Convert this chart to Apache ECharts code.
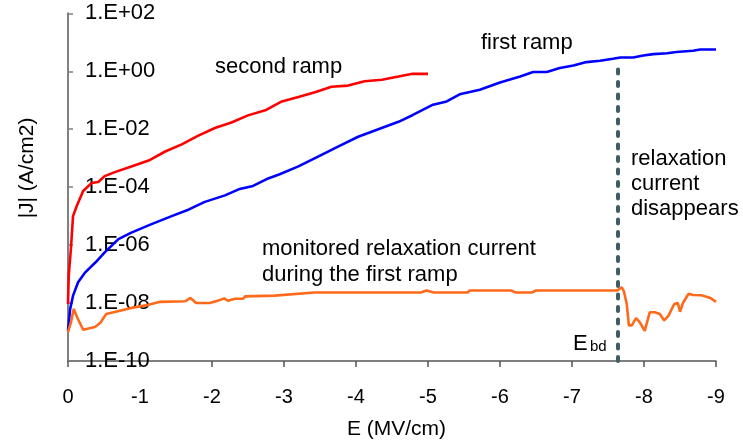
<!DOCTYPE html>
<html>
<head>
<meta charset="utf-8">
<script src="https://cdn.jsdelivr.net/npm/echarts@6/dist/echarts.min.js"></script>
<style>
  html, body { margin: 0; padding: 0; background: #fff; }
  #chart { width: 743px; height: 445px; }
</style>
</head>
<body>
<div id="chart"></div>
<script>
// Field E (MV/cm) and current density |J| (A/cm2) for each trace
const secondRampE = [0, -0.01, -0.04, -0.07, -0.12, -0.21, -0.33, -0.42, -0.51, -0.65, -0.88, -1.12, -1.35, -1.58, -1.81, -2.04, -2.27, -2.50, -2.74, -2.97, -3.20, -3.43, -3.66, -3.89, -4.12, -4.36, -4.59, -4.77, -5.0];
const secondRampJ = [9.3e-9, 8.7e-8, 7.2e-7, 1.0e-5, 2.2e-5, 7.4e-5, 1.4e-4, 1.5e-4, 2.4e-4, 3.3e-4, 5.2e-4, 8.3e-4, 1.7e-3, 3.0e-3, 6.0e-3, 1.1e-2, 1.7e-2, 3.0e-2, 4.5e-2, 9.1e-2, 0.13, 0.19, 0.29, 0.32, 0.45, 0.51, 0.66, 0.81, 0.81];

const firstRampE = [0, -0.03, -0.07, -0.14, -0.24, -0.38, -0.51, -0.70, -0.88, -1.16, -1.44, -1.68, -1.90, -2.18, -2.37, -2.57, -2.78, -2.94, -3.20, -3.48, -3.75, -4.03, -4.31, -4.59, -4.79, -5.07, -5.26, -5.44, -5.72, -6.00, -6.28, -6.46, -6.65, -6.83, -7.02, -7.20, -7.39, -7.57, -7.67, -7.85, -7.99, -8.13, -8.32, -8.45, -8.68, -8.78, -9.0];
const firstRampJ = [1.1e-9, 6.3e-9, 1.8e-8, 5.2e-8, 1.15e-7, 2.5e-7, 5.6e-7, 1.6e-6, 2.7e-6, 5.3e-6, 1.0e-5, 1.7e-5, 3.1e-5, 5.2e-5, 8.4e-5, 1.1e-4, 2.0e-4, 2.8e-4, 5.2e-4, 1.15e-3, 2.5e-3, 5.5e-3, 1.0e-2, 1.8e-2, 3.1e-2, 7.0e-2, 9.1e-2, 0.16, 0.23, 0.41, 0.66, 0.94, 0.94, 1.29, 1.58, 2.07, 2.3, 2.7, 3.0, 3.0, 3.5, 3.9, 4.2, 4.6, 5.1, 5.6, 5.6];

const relaxationE = [0, -0.04, -0.08, -0.125, -0.21, -0.375, -0.45, -0.53, -0.88, -1.08, -1.28, -1.63, -1.70, -1.78, -1.97, -2.08, -2.17, -2.22, -2.32, -2.43, -2.46, -2.87, -3.42, -4.90, -4.98, -5.08, -5.55, -5.58, -6.15, -6.22, -6.44, -6.50, -7.63, -7.69, -7.72, -7.76, -7.79, -7.83, -7.89, -7.94, -8.01, -8.08, -8.15, -8.22, -8.28, -8.34, -8.42, -8.47, -8.50, -8.54, -8.62, -8.68, -8.80, -8.92, -9.0];
const relaxationJ = [1.0e-9, 2.1e-9, 6.3e-9, 3.3e-9, 1.2e-9, 1.5e-9, 2.1e-9, 4.2e-9, 6.8e-9, 8.3e-9, 1.1e-8, 1.15e-8, 1.5e-8, 1.0e-8, 1.0e-8, 1.2e-8, 1.45e-8, 1.2e-8, 1.4e-8, 1.4e-8, 1.7e-8, 1.8e-8, 2.3e-8, 2.3e-8, 2.7e-8, 2.3e-8, 2.3e-8, 2.7e-8, 2.7e-8, 2.3e-8, 2.3e-8, 2.7e-8, 2.7e-8, 3.5e-8, 2.6e-8, 9.3e-9, 1.7e-9, 1.7e-9, 3.0e-9, 2.2e-9, 1.1e-9, 4.8e-9, 4.8e-9, 4.2e-9, 2.5e-9, 3.7e-9, 9.3e-9, 1.0e-8, 5.0e-9, 1.0e-8, 2.1e-8, 1.9e-8, 1.85e-8, 1.5e-8, 1.1e-8];

// Breakdown field marker
const breakdownE = -7.64;
const breakdownTopJ = 1.3;

// Axis ranges and ticks
const fieldMin = -9, fieldMax = 0, fieldStep = 1;
const currentMin = 1e-10, currentMax = 1e2;
const currentTicks = [1e-10, 1e-8, 1e-6, 1e-4, 1e-2, 1e0, 1e2];

const FONT = 'Liberation Sans, Arial, Helvetica, sans-serif';

function pairs(xs, ys) { return xs.map((x, i) => [x, ys[i]]); }

function sciLabel(v) {
  const e = Math.round(Math.log10(v));
  return '1.E' + (e < 0 ? '-' : '+') + String(Math.abs(e)).padStart(2, '0');
}

const chart = echarts.init(document.getElementById('chart'), null, { renderer: 'canvas' });

const textStyle = { fontFamily: FONT, fontSize: 22, fill: '#000' };

chart.setOption({
  animation: false,
  backgroundColor: '#fff',
  grid: { left: 68, right: 27, top: 13.3, bottom: 82.7, containLabel: false },
  xAxis: {
    type: 'value',
    min: fieldMin, max: fieldMax, interval: fieldStep,
    inverse: true,
    name: 'E (MV/cm)',
    nameLocation: 'middle',
    nameGap: 58,
    nameTextStyle: { fontFamily: FONT, fontSize: 21, color: '#000', padding: [0, 0, 0, 9] },
    axisLine: { onZero: false, lineStyle: { color: '#555', width: 1.5 } },
    axisTick: { inside: false, length: 6, lineStyle: { color: '#555', width: 1.5 } },
    axisLabel: { fontFamily: FONT, fontSize: 20, color: '#000', margin: 26, formatter: v => String(v) },
    splitLine: { show: false }
  },
  yAxis: {
    type: 'log',
    logBase: 10,
    min: currentMin, max: currentMax,
    axisLine: { show: true, lineStyle: { color: '#808080', width: 2 } },
    axisTick: { show: true, inside: true, length: 5, customValues: currentTicks,
      lineStyle: { color: '#808080', width: 1.5 } },
    axisLabel: { inside: true, margin: 17, fontFamily: FONT, fontSize: 22, color: '#000',
      customValues: currentTicks, formatter: sciLabel },
    splitLine: { show: false }
  },
  series: [
    {
      name: 'second ramp', type: 'line', data: pairs(secondRampE, secondRampJ),
      showSymbol: false, lineStyle: { color: '#ff0000', width: 2.6 }, itemStyle: { color: '#ff0000' }, z: 3
    },
    {
      name: 'first ramp', type: 'line', data: pairs(firstRampE, firstRampJ),
      showSymbol: false, lineStyle: { color: '#0000ff', width: 2.6 }, itemStyle: { color: '#0000ff' }, z: 3
    },
    {
      name: 'relaxation current', type: 'line', data: pairs(relaxationE, relaxationJ),
      showSymbol: false, lineStyle: { color: '#ff6a1a', width: 2.6 }, itemStyle: { color: '#ff6a1a' }, z: 3,
      markLine: {
        silent: true,
        symbol: ['none', 'none'],
        label: { show: false },
        lineStyle: { color: '#3d5c64', width: 4, type: [4, 8.5], cap: 'round' },
        data: [[{ coord: [breakdownE, currentMin] }, { coord: [breakdownE, breakdownTopJ] }]]
      }
    }
  ],
  graphic: [
    { type: 'text', x: 27, y: 168, rotation: Math.PI / 2,
      style: Object.assign({}, textStyle, { text: '|J| (A/cm2)', fontSize: 21, align: 'center', verticalAlign: 'middle' }) },
    { type: 'text', x: 215, y: 66.5, style: Object.assign({}, textStyle, { text: 'second ramp', verticalAlign: 'middle' }) },
    { type: 'text', x: 481, y: 43.3, style: Object.assign({}, textStyle, { text: 'first ramp', verticalAlign: 'middle' }) },
    { type: 'text', x: 631, y: 159, style: Object.assign({}, textStyle, { text: 'relaxation', verticalAlign: 'middle' }) },
    { type: 'text', x: 631, y: 184, style: Object.assign({}, textStyle, { text: 'current', verticalAlign: 'middle' }) },
    { type: 'text', x: 631, y: 209, style: Object.assign({}, textStyle, { text: 'disappears', verticalAlign: 'middle' }) },
    { type: 'text', x: 262, y: 248.8, style: Object.assign({}, textStyle, { text: 'monitored relaxation current', verticalAlign: 'middle' }) },
    { type: 'text', x: 262, y: 274.8, style: Object.assign({}, textStyle, { text: 'during the first ramp', verticalAlign: 'middle' }) },
    { type: 'text', x: 573, y: 344, style: Object.assign({}, textStyle, { text: 'E', verticalAlign: 'middle' }) },
    { type: 'text', x: 590, y: 346.8, style: Object.assign({}, textStyle, { text: 'bd', fontSize: 15, verticalAlign: 'middle' }) }
  ]
});
</script>
</body>
</html>
